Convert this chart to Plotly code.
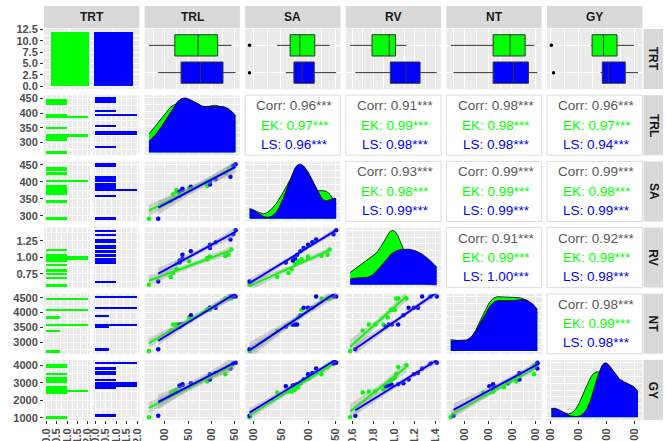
import numpy as np
import plotly.graph_objects as go

# ---------------- data ----------------
variables = ["TRL", "SA", "RV", "NT", "GY"]
groups = ["EK", "LS"]
group_colors = ["#00FF00", "#0000FF"]

TRL_EK = [266, 313, 318, 325, 325, 352, 391, 391, 397, 430, 437, 443]
TRL_LS = [286, 332, 332, 338, 338, 356, 397, 397, 409, 441, 447, 452]
SA_EK = [292, 343, 364, 370, 376, 382, 388, 400, 400, 425, 436, 440]
SA_LS = [292, 359, 372, 376, 380, 386, 392, 400, 408, 415, 447, 452]
RV_EK = [0.58, 0.70, 0.76, 0.82, 0.90, 0.94, 0.97, 0.99, 1.01, 1.02, 1.04, 1.12]
RV_LS = [0.63, 0.92, 0.95, 0.98, 1.04, 1.09, 1.14, 1.19, 1.23, 1.27, 1.35, 1.41]
NT_EK = [2700, 3390, 3600, 3600, 3600, 3830, 4090, 4090, 4090, 4470, 4470, 4470]
NT_LS = [2760, 3520, 3600, 3600, 3600, 3910, 4160, 4160, 4160, 4540, 4540, 4540]
GY_EK = [1040, 2450, 2500, 2500, 2600, 2740, 3070, 3220, 3300, 3480, 3900, 4000]
GY_LS = [1120, 2800, 2850, 2880, 2920, 2980, 3180, 3480, 3560, 3810, 4100, 4140]

data = {
    "TRL": [TRL_EK, TRL_LS],
    "SA": [SA_EK, SA_LS],
    "RV": [RV_EK, RV_LS],
    "NT": [NT_EK, NT_LS],
    "GY": [GY_EK, GY_LS],
}

# correlation labels (upper panels), keyed by (row var, col var)
cor_pairs = [("TRL", "SA"), ("TRL", "RV"), ("TRL", "NT"), ("TRL", "GY"),
             ("SA", "RV"), ("SA", "NT"), ("SA", "GY"),
             ("RV", "NT"), ("RV", "GY"), ("NT", "GY")]
corr_all = ["0.96", "0.91", "0.98", "0.96", "0.93", "0.99", "0.99", "0.91", "0.92", "0.98"]
corr_ek = ["0.97", "0.99", "0.98", "0.97", "0.98", "0.99", "0.98", "0.99", "0.98", "0.99"]
corr_ls = ["0.96", "0.98", "0.98", "0.94", "0.99", "0.99", "0.99", "1.00", "0.98", "0.98"]

strip_labels = ["TRT"] + variables

# tick spacing / formats
y_dtick = {"TRL": 50, "SA": 50, "RV": 0.25, "NT": 500, "GY": 1000}
y_fmt = {"TRL": "d", "SA": "d", "RV": ".2f", "NT": "d", "GY": "d"}
x_dtick = {"TRL": 50, "SA": 50, "RV": 0.2, "NT": 500, "GY": 1000}
x_fmt = {"TRL": "d", "SA": "d", "RV": ".1f", "NT": "d", "GY": "d"}

# ---------------- layout geometry ----------------
W, H = 666, 441
FONT = "Liberation Sans, Arial, sans-serif"
TICKFONT = dict(family=FONT, size=11, color="#4D4D4D", weight="bold")


def fx(px):
    return px / W


def fy(py):
    return 1 - py / H


col_left = [44 + k * 100.6 for k in range(6)]
col_w = 95.3
row_top = [29 + k * 66.2 for k in range(6)]
row_h = 60
sub_cols = [(44, 90), (93.3, 139.3)]

layout = {}
traces = []
shapes = []
annotations = []
ax_count = [0]


def base_axis():
    return dict(showgrid=True, gridcolor="white", gridwidth=1.1, zeroline=False,
                showline=False, ticks="", showticklabels=False, tickfont=TICKFONT,
                ticklen=3, tickcolor="#333333", tickwidth=1)


def num_axis(rng, dtick, fmt):
    return dict(range=rng, tick0=0, dtick=dtick, tickformat=fmt,
                minor=dict(showgrid=True, gridcolor="white", gridwidth=0.5,
                           tick0=0, dtick=dtick / 2))


def new_axes(x0, x1, y0, y1, xa, ya):
    ax_count[0] += 1
    i = ax_count[0]
    s = "" if i == 1 else str(i)
    xd = base_axis()
    xd.update(xa)
    yd = base_axis()
    yd.update(ya)
    xd.update(domain=[fx(x0), fx(x1)], anchor="y" + s)
    yd.update(domain=[fy(y1), fy(y0)], anchor="x" + s)
    layout["xaxis" + s] = xd
    layout["yaxis" + s] = yd
    return "x" + s, "y" + s


def vrange(v):
    allv = np.array(data[v][0] + data[v][1], dtype=float)
    lo, hi = allv.min(), allv.max()
    d = hi - lo
    return [lo - 0.05 * d, hi + 0.05 * d], lo, hi


def label_y(cfg, show):
    if show:
        cfg.update(showticklabels=True, ticks="outside")
    return cfg


def label_x(cfg, show):
    if show:
        cfg.update(showticklabels=True, ticks="outside", tickangle=-90)
    return cfg


def density(vals, grid):
    # Gaussian kernel density with Silverman bandwidth (as R's bw.nrd0)
    vals = np.asarray(vals, float)
    q75, q25 = np.percentile(vals, [75, 25])
    bw = 0.9 * min(vals.std(ddof=1), (q75 - q25) / 1.34) * len(vals) ** -0.2
    z = (grid[:, None] - vals[None, :]) / bw
    return np.exp(-0.5 * z ** 2).sum(axis=1) / (len(vals) * bw * np.sqrt(2 * np.pi))


# ---------------- row 0 ----------------
# TRT count bars
xa = dict(type="category", categoryorder="array", categoryarray=groups,
          range=[-0.6, 1.6], minor=dict(showgrid=False))
n_max = max(len(data["TRL"][0]), len(data["TRL"][1]))
ya = num_axis([-0.05 * n_max, 1.05 * n_max], 2.5, ".1f")
label_y(ya, True)
xr, yr = new_axes(col_left[0], col_left[0] + col_w, row_top[0], row_top[0] + row_h, xa, ya)
for g, c, k in zip(groups, group_colors, range(2)):
    traces.append(go.Bar(x=[g], y=[len(data["TRL"][k])], width=0.9, marker_color=c,
                         marker_line_width=0, xaxis=xr, yaxis=yr, showlegend=False))

# boxplots
for j, v in enumerate(variables):
    c = j + 1
    rng, lo, hi = vrange(v)
    xa = num_axis(rng, x_dtick[v], x_fmt[v])
    ya = dict(type="category", categoryorder="array", categoryarray=["LS", "EK"],
              range=[-0.6, 1.6], minor=dict(showgrid=False))
    xr, yr = new_axes(col_left[c], col_left[c] + col_w, row_top[0], row_top[0] + row_h, xa, ya)
    for k, (g, col) in enumerate(zip(groups, group_colors)):
        vals = data[v][k]
        traces.append(go.Box(x=vals, y=[g] * len(vals), orientation="h", fillcolor=col,
                             line=dict(color="#333333", width=1), width=0.78, whiskerwidth=0,
                             boxpoints="outliers", pointpos=0, jitter=0,
                             marker=dict(color="black", size=3.5), quartilemethod="linear",
                             xaxis=xr, yaxis=yr, showlegend=False))

# ---------------- rows 1..5 ----------------
t975 = 2.228
for i, rv in enumerate(variables):
    r = i + 1
    ytop, ybot = row_top[r], row_top[r] + row_h
    yrng, ylo, yhi = vrange(rv)
    # histogram column (two facets)
    bw_bin = (yhi - ylo) / 29.0
    edges = ylo - bw_bin / 2 + bw_bin * np.arange(31)
    mc = max(np.histogram(data[rv][k], bins=edges)[0].max() for k in range(2))
    cdt = 0.5 if mc <= 2 else 1
    for k, (g, col) in enumerate(zip(groups, group_colors)):
        xa = num_axis([-0.05 * mc, 1.05 * mc], cdt, ".1f")
        label_x(xa, r == 5)
        ya = num_axis(yrng, y_dtick[rv], y_fmt[rv])
        label_y(ya, k == 0)
        xr, yr = new_axes(sub_cols[k][0], sub_cols[k][1], ytop, ybot, xa, ya)
        traces.append(go.Histogram(y=data[rv][k], ybins=dict(start=edges[0], end=edges[-1] + 1e-9,
                                                             size=bw_bin),
                                   marker_color=col, marker_line_width=0,
                                   xaxis=xr, yaxis=yr, showlegend=False))
    for j, cv in enumerate(variables):
        c = j + 1
        xrng, xlo, xhi = vrange(cv)
        x0, x1 = col_left[c], col_left[c] + col_w
        if j < i:
            # scatter + lm
            xa = num_axis(xrng, x_dtick[cv], x_fmt[cv])
            label_x(xa, r == 5)
            ya = num_axis(yrng, y_dtick[rv], y_fmt[rv])
            xr, yr = new_axes(x0, x1, ytop, ybot, xa, ya)
            for k, col in enumerate(group_colors):
                traces.append(go.Scatter(x=data[cv][k], y=data[rv][k], mode="markers",
                                         marker=dict(color=col, size=4.5), xaxis=xr, yaxis=yr,
                                         showlegend=False))
            for k, col in enumerate(group_colors):
                xs = np.array(data[cv][k], float)
                ys = np.array(data[rv][k], float)
                b, a = np.polyfit(xs, ys, 1)
                n = len(xs)
                resid = ys - (a + b * xs)
                s = np.sqrt((resid ** 2).sum() / (n - 2))
                sxx = ((xs - xs.mean()) ** 2).sum()
                gx = np.linspace(xs.min(), xs.max(), 60)
                gy = a + b * gx
                se = s * np.sqrt(1.0 / n + (gx - xs.mean()) ** 2 / sxx)
                up, dn = gy + t975 * se, gy - t975 * se
                traces.append(go.Scatter(x=np.concatenate([gx, gx[::-1]]),
                                         y=np.concatenate([up, dn[::-1]]), fill="toself",
                                         fillcolor="rgba(153,153,153,0.4)", line=dict(width=0),
                                         mode="lines", hoverinfo="skip", xaxis=xr, yaxis=yr,
                                         showlegend=False))
                traces.append(go.Scatter(x=gx, y=gy, mode="lines", line=dict(color=col, width=2),
                                         xaxis=xr, yaxis=yr, showlegend=False))
        elif j == i:
            # density (stat_density over the panel's data range)
            grid = np.linspace(xlo, xhi, 256)
            dens = [density(data[cv][k], grid) for k in range(2)]
            dmax = max(d.max() for d in dens)
            xa = num_axis(xrng, x_dtick[cv], x_fmt[cv])
            label_x(xa, r == 5)
            ddt = 10 ** np.floor(np.log10(dmax / 2))
            ya = dict(range=[-0.05 * dmax, 1.05 * dmax], tick0=0, dtick=dmax / 4,
                      minor=dict(showgrid=True, gridcolor="white", gridwidth=0.5, tick0=0,
                                 dtick=dmax / 8))
            xr, yr = new_axes(x0, x1, ytop, ybot, xa, ya)
            for k, col in enumerate(group_colors):
                traces.append(go.Scatter(x=grid, y=dens[k], mode="lines", fill="tozeroy",
                                         fillcolor=col, line=dict(color="black", width=0.8),
                                         hoverinfo="skip", xaxis=xr, yaxis=yr, showlegend=False))
        else:
            # correlation text
            xa = dict(range=[0, 1], showgrid=False, minor=dict(showgrid=False))
            ya = dict(range=[0, 1], showgrid=False, minor=dict(showgrid=False))
            xr, yr = new_axes(x0, x1, ytop, ybot, xa, ya)
            shapes.append(dict(type="rect", xref="paper", yref="paper", x0=fx(x0), x1=fx(x1),
                               y0=fy(ybot), y1=fy(ytop), fillcolor="white",
                               line=dict(color="#DDDDDD", width=1), layer="above"))
            idx = cor_pairs.index((rv, cv))
            cy = (ytop + ybot) / 2
            cx = (x0 + x1) / 2 + 2
            for txt, dy, colr in [("Corr: %s***" % corr_all[idx], -19.5, "#595959"),
                                  ("EK: %s***" % corr_ek[idx], 0, "#00FF00"),
                                  ("LS: %s***" % corr_ls[idx], 19, "#0000FF")]:
                annotations.append(dict(x=fx(cx), y=fy(cy + dy), xref="paper", yref="paper",
                                        text=txt, showarrow=False, xanchor="center",
                                        yanchor="middle",
                                        font=dict(family=FONT, size=13.5, color=colr)))

# ---------------- strips ----------------
strip_fill = "#D9D9D9"
strip_font = dict(family=FONT, size=12, color="#1A1A1A", weight="bold")
for c, lab in enumerate(strip_labels):
    x0, x1 = col_left[c], col_left[c] + col_w
    shapes.append(dict(type="rect", xref="paper", yref="paper", x0=fx(x0), x1=fx(x1),
                       y0=fy(28.3), y1=fy(6), fillcolor=strip_fill, line=dict(width=0)))
    annotations.append(dict(x=fx((x0 + x1) / 2), y=fy(17.2), xref="paper", yref="paper",
                            xanchor="center", yanchor="middle",
                            text=lab, showarrow=False, font=strip_font))
for r, lab in enumerate(strip_labels):
    y0, y1 = row_top[r], row_top[r] + row_h
    shapes.append(dict(type="rect", xref="paper", yref="paper", x0=fx(643.5), x1=fx(663),
                       y0=fy(y1), y1=fy(y0), fillcolor=strip_fill, line=dict(width=0)))
    annotations.append(dict(x=fx(653.3), y=fy((y0 + y1) / 2), xref="paper", yref="paper",
                            xanchor="center", yanchor="middle",
                            text=lab, showarrow=False, textangle=90, font=strip_font))

fig = go.Figure(data=traces)
fig.update_layout(**layout)
fig.update_layout(width=W, height=H, margin=dict(l=0, r=0, t=0, b=0, autoexpand=False),
                  paper_bgcolor="white", plot_bgcolor="#EBEBEB", barmode="overlay",
                  bargap=0, boxmode="overlay", showlegend=False,
                  shapes=shapes, annotations=annotations, font=dict(family=FONT))
fig.write_html("out.html", config={"displayModeBar": False},
               post_script="document.body.style.margin='0px';document.body.style.overflow='hidden';")
